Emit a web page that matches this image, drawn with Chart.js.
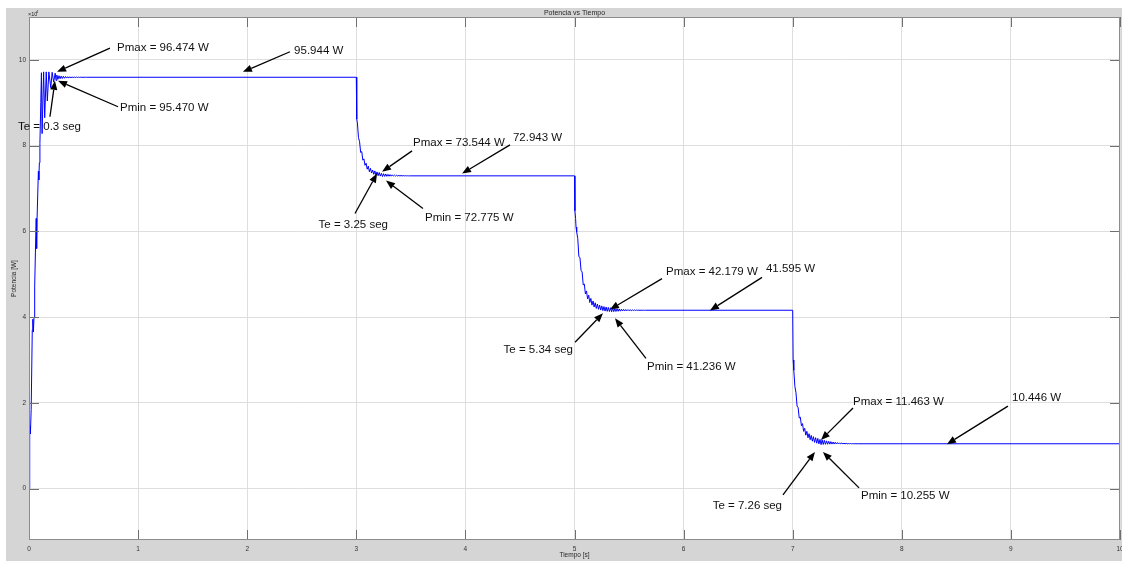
<!DOCTYPE html>
<html>
<head>
<meta charset="utf-8">
<title>Potencia vs Tiempo</title>
<script src="https://cdn.jsdelivr.net/npm/chart.js@4.4.1/dist/chart.umd.min.js"></script>
<style>
  html, body { margin: 0; padding: 0; background: #ffffff; }
  #lienzo { display: block; }
</style>
</head>
<body>
<canvas id="lienzo" width="1122" height="561"></canvas>
<script>
// Valores característicos de cada escalón [W]
const PMAX = [96.474, 73.544, 42.179, 11.463];
const PMIN = [95.470, 72.775, 41.236, 10.255];
const REGIMEN = [95.944, 72.943, 41.595, 10.446];
const T_ESTAB = [0.3, 3.25, 5.34, 7.26];

// Ejes
const xTicks = [0, 1, 2, 3, 4, 5, 6, 7, 8, 9, 10];
const xTickLabels = ['0', '1', '2', '3', '4', '5', '6', '7', '8', '9', '10'];
const yTicks = [0, 20, 40, 60, 80, 100];
const yTickLabels = ['0', '2', '4', '6', '8', '10'];

// Arranque (0 -> régimen 1)
const tiempoArranque = [0, 0.004, 0.009, 0.011, 0.013, 0.02, 0.03, 0.035, 0.04, 0.046,
  0.052, 0.062, 0.066, 0.07, 0.074, 0.086, 0.09, 0.095, 0.1, 0.108,
  0.114, 0.12, 0.134, 0.144, 0.158, 0.168, 0.182, 0.2, 0.212, 0.226,
  0.24, 0.248, 0.255, 0.265, 0.275, 0.285, 0.295, 0.305, 0.315, 0.325,
  0.335, 0.345, 0.355, 0.365, 0.375, 0.385, 0.395, 0.405, 0.415, 0.425,
  0.435, 0.445, 0.455, 0.465, 0.475, 0.485, 0.495, 0.505, 0.515, 0.525];
const potenciaArranque = [0, 6.0, 13.0, 14.5, 12.8, 18.5, 37.0, 39.5, 36.5, 40.0,
  47.0, 59.0, 63.0, 56.0, 63.0, 74.0, 72.0, 76.0, 80.5, 90.0,
  97.0, 82.8, 97.2, 86.5, 97.2, 90.4, 97.2, 93.5, 97.1, 94.8,
  96.9, 95.2, PMAX[0], PMIN[0], 96.30, 95.60, 96.22, 95.66, 96.16, 95.71,
  96.11, 95.75, 96.07, 95.79, 96.04, 95.82, 96.02, 95.85, 96.00, 95.87,
  95.99, 95.89, 95.98, 95.90, 95.97, 95.91, 95.96, 95.92, 95.95, REGIMEN[0]];

// Escalón en t = 3 s
const tiempoEscalon1 = [3.0, 3.004, 3.01,
  3.02, 3.03, 3.04, 3.05, 3.06, 3.07, 3.08, 3.09, 3.10, 3.11,
  3.12, 3.13, 3.14, 3.15, 3.16, 3.17, 3.18, 3.19, 3.20, 3.21,
  3.22, 3.23, 3.24, 3.25, 3.26, 3.27, 3.28, 3.29, 3.30, 3.31,
  3.32, 3.33, 3.34, 3.35, 3.36, 3.37, 3.38, 3.39, 3.40, 3.41,
  3.42, 3.43, 3.44, 3.45, 3.46, 3.47, 3.48, 3.49, 3.50];
const potenciaEscalon1 = [REGIMEN[0], 86.2, 85.3,
  81.9, 80.9, 78.4, 78.6, 76.6, 76.9, 75.4, 75.9, 74.5, 75.2,
  73.9, 74.7, 73.6, 74.3, 73.3, 74.1, 73.1, 73.86, 72.97, 73.72,
  72.89, PMAX[1], PMIN[1], 73.45, 72.81, 73.38, 72.83, 73.30, 72.85, 73.24,
  72.87, 73.18, 72.88, 73.13, 72.89, 73.09, 72.90, 73.06, 72.91, 73.03,
  72.92, 73.01, 72.925, 72.99, 72.93, 72.97, 72.935, 72.955, REGIMEN[1]];

// Escalón en t = 5 s
const tiempoEscalon2 = [5.0, 5.004, 5.01, 5.014,
  5.02, 5.03, 5.04, 5.05, 5.06, 5.07, 5.08, 5.09, 5.10, 5.11,
  5.12, 5.13, 5.14, 5.15, 5.16, 5.17, 5.18, 5.19, 5.20, 5.21,
  5.22, 5.23, 5.24, 5.25, 5.26, 5.27, 5.28, 5.29, 5.30, 5.31,
  5.32, 5.33, 5.34, 5.35, 5.36, 5.37, 5.38, 5.39, 5.40, 5.41,
  5.42, 5.43, 5.44, 5.45, 5.46, 5.47, 5.48, 5.49, 5.50, 5.51,
  5.52, 5.53, 5.54, 5.55, 5.56, 5.57, 5.58, 5.59, 5.60, 5.61,
  5.62, 5.63, 5.64, 5.65];
const potenciaEscalon2 = [REGIMEN[1], 64.8, 63.0, 61.0,
  59.9, 58.3, 54.1, 53.9, 50.9, 50.5, 47.5, 47.7, 45.4, 46.1,
  44.25, 45.1, 43.4, 44.35, 42.8, 43.75, 42.35, 43.33, 42.02, 43.03,
  41.81, 42.80, 41.64, 42.61, 41.51, 42.45, 41.40, 42.35, 41.34, 42.26,
  41.29, PMAX[2], PMIN[2], 42.06, 41.27, 42.00, 41.31, 41.94, 41.35, 41.89,
  41.38, 41.85, 41.41, 41.81, 41.44, 41.77, 41.46, 41.74, 41.48, 41.71,
  41.50, 41.69, 41.52, 41.67, 41.53, 41.65, 41.55, 41.635, 41.56, 41.625,
  41.57, 41.615, 41.58, REGIMEN[2]];

// Escalón en t = 7 s hasta el final de la simulación
const tiempoEscalon3 = [7.0, 7.004, 7.01,
  7.02, 7.03, 7.04, 7.05, 7.06, 7.07, 7.08, 7.09, 7.10, 7.11,
  7.12, 7.13, 7.14, 7.15, 7.16, 7.17, 7.18, 7.19, 7.20, 7.21,
  7.22, 7.23, 7.24, 7.25, 7.26, 7.27, 7.28, 7.29, 7.30, 7.31,
  7.32, 7.33, 7.34, 7.35, 7.36, 7.37, 7.38, 7.39, 7.40, 7.41,
  7.42, 7.43, 7.44, 7.45, 7.46, 7.47, 7.48, 7.49, 7.50, 7.51,
  7.52, 7.53, 7.54, 7.55, 7.56, 7.57, 7.58, 7.59, 7.60, 10.0];
const potenciaEscalon3 = [REGIMEN[2], 30.0, 27.6,
  23.85, 22.35, 19.25, 18.85, 16.45, 16.65, 14.65, 15.15, 13.35, 14.05,
  12.45, 13.35, 11.85, 12.8, 11.4, 12.4, 11.05, 12.1, 10.77, 11.87,
  10.58, 11.7, 10.43, PMAX[3], PMIN[3], 11.35, 10.29, 11.24, 10.32, 11.13,
  10.34, 11.03, 10.36, 10.94, 10.37, 10.86, 10.38, 10.79, 10.39, 10.73,
  10.40, 10.67, 10.41, 10.62, 10.42, 10.58, 10.425, 10.55, 10.43, 10.52,
  10.435, 10.50, 10.44, 10.48, 10.442, 10.465, 10.445, 10.455, REGIMEN[3], REGIMEN[3]];

const tramos = [
  [tiempoArranque, potenciaArranque],
  [tiempoEscalon1, potenciaEscalon1],
  [tiempoEscalon2, potenciaEscalon2],
  [tiempoEscalon3, potenciaEscalon3]
];
const puntos = [];
tramos.forEach(([ts, ps]) => {
  const n = Math.min(ts.length, ps.length);
  for (let i = 0; i < n; i++) puntos.push({ x: ts[i], y: ps[i] });
});

const fmt = v => v.toFixed(3);

// Flechas de anotación: punta, cola y texto en coordenadas (t [s], P [W])
const anotaciones = [
  { texto: `Pmax = ${fmt(PMAX[0])} W`, punta: [0.257, 97.2], cola: [0.742, 102.75], pos: [0.807, 102.75], alin: 'left' },
  { texto: `${fmt(REGIMEN[0])} W`, punta: [1.961, 97.2], cola: [2.392, 101.9], pos: [2.43, 102.1], alin: 'left' },
  { texto: `Pmin = ${fmt(PMIN[0])} W`, punta: [0.266, 95.1], cola: [0.816, 89.06], pos: [0.834, 88.83], alin: 'left' },
  { texto: `Te = ${T_ESTAB[0]} seg`, punta: [0.238, 95.1], cola: [0.192, 86.73], pos: [-0.101, 84.4], alin: 'left' },

  { texto: `Pmax = ${fmt(PMAX[1])} W`, punta: [3.236, 73.89], cola: [3.511, 78.77], pos: [3.52, 80.63], alin: 'left' },
  { texto: `${fmt(REGIMEN[1])} W`, punta: [3.969, 73.47], cola: [4.409, 80.17], pos: [4.436, 81.8], alin: 'left' },
  { texto: `Pmin = ${fmt(PMIN[1])} W`, punta: [3.272, 71.84], cola: [3.611, 65.32], pos: [3.63, 63.23], alin: 'left' },
  { texto: `Te = ${T_ESTAB[1]} seg`, punta: [3.19, 73.47], cola: [2.988, 64.16], pos: [3.29, 61.6], alin: 'right' },

  { texto: `Pmax = ${fmt(PMAX[2])} W`, punta: [5.325, 41.76], cola: [5.802, 48.98], pos: [5.839, 50.61], alin: 'left' },
  { texto: `${fmt(REGIMEN[2])} W`, punta: [6.242, 41.54], cola: [6.719, 49.27], pos: [6.755, 51.3], alin: 'left' },
  { texto: `Pmin = ${fmt(PMIN[2])} W`, punta: [5.371, 39.72], cola: [5.655, 30.35], pos: [5.665, 28.5], alin: 'left' },
  { texto: `Te = ${T_ESTAB[2]} seg`, punta: [5.261, 40.89], cola: [5.005, 34.14], pos: [4.986, 32.3], alin: 'right' },

  { texto: `Pmax = ${fmt(PMAX[3])} W`, punta: [7.259, 11.33], cola: [7.553, 18.78], pos: [7.553, 20.18], alin: 'left' },
  { texto: `${fmt(REGIMEN[3])} W`, punta: [8.414, 10.36], cola: [8.973, 19.24], pos: [9.01, 21.1], alin: 'left' },
  { texto: `Pmin = ${fmt(PMIN[3])} W`, punta: [7.277, 8.54], cola: [7.608, 0.16], pos: [7.626, -1.77], alin: 'left' },
  { texto: `Te = ${T_ESTAB[3]} seg`, punta: [7.204, 8.54], cola: [6.911, -1.49], pos: [6.902, -4.03], alin: 'right' }
];

const FUENTE = '"Liberation Sans", Arial, Helvetica, sans-serif';
const GRIS_FIGURA = '#d5d5d5';

function flecha(ctx, x0, y0, x1, y1) {
  const ang = Math.atan2(y1 - y0, x1 - x0);
  const largo = 9, ancho = 3.6;
  const bx = x1 - largo * Math.cos(ang), by = y1 - largo * Math.sin(ang);
  ctx.beginPath();
  ctx.moveTo(x0, y0);
  ctx.lineTo(bx, by);
  ctx.stroke();
  ctx.beginPath();
  ctx.moveTo(x1, y1);
  ctx.lineTo(bx + ancho * Math.sin(ang), by - ancho * Math.cos(ang));
  ctx.lineTo(bx - ancho * Math.sin(ang), by + ancho * Math.cos(ang));
  ctx.closePath();
  ctx.fill();
}

const figura = {
  id: 'figura',
  beforeDraw(chart) {
    const { ctx, chartArea: a } = chart;
    ctx.save();
    ctx.fillStyle = '#ffffff';
    ctx.fillRect(0, 0, chart.width, chart.height);
    ctx.fillStyle = GRIS_FIGURA;
    ctx.fillRect(6, 8, chart.width - 6, chart.height - 8);
    ctx.fillStyle = '#ffffff';
    ctx.fillRect(a.left, a.top, a.right - a.left, a.bottom - a.top);
    ctx.restore();
  },
  afterDraw(chart) {
    const { ctx, chartArea: a, scales } = chart;
    const sx = scales.x, sy = scales.y;
    ctx.save();

    // Marcas interiores de los ejes
    ctx.strokeStyle = '#707070';
    ctx.lineWidth = 1;
    ctx.beginPath();
    xTicks.forEach(v => {
      const px = Math.round(sx.getPixelForValue(v)) + 0.5;
      ctx.moveTo(px, a.bottom); ctx.lineTo(px, a.bottom - 10);
      ctx.moveTo(px, a.top); ctx.lineTo(px, a.top + 10);
    });
    yTicks.forEach(v => {
      const py = Math.round(sy.getPixelForValue(v)) + 0.5;
      ctx.moveTo(a.left, py); ctx.lineTo(a.left + 10, py);
      ctx.moveTo(a.right, py); ctx.lineTo(a.right - 10, py);
    });
    ctx.stroke();

    // Caja de los ejes
    ctx.strokeStyle = '#8c8c8c';
    ctx.strokeRect(Math.round(a.left) + 0.5, Math.round(a.top) + 0.5,
      Math.round(a.right - a.left) - 1, Math.round(a.bottom - a.top) - 1);

    // Título, etiquetas de ejes y exponente
    ctx.fillStyle = '#262626';
    ctx.textAlign = 'center';
    ctx.textBaseline = 'middle';
    ctx.font = `7px ${FUENTE}`;
    ctx.fillText('Potencia vs Tiempo', (a.left + a.right) / 2, 13);
    ctx.font = `6.5px ${FUENTE}`;
    ctx.fillText('Tiempo [s]', (a.left + a.right) / 2, 555);
    ctx.save();
    ctx.translate(14, (a.top + a.bottom) / 2);
    ctx.rotate(-Math.PI / 2);
    ctx.fillText('Potencia [W]', 0, 0);
    ctx.restore();
    ctx.textAlign = 'left';
    ctx.font = `5.5px ${FUENTE}`;
    ctx.fillText('\u00d710', a.left - 1, 14);
    ctx.font = `4px ${FUENTE}`;
    ctx.fillText('4', a.left + 7, 12);

    // Anotaciones
    ctx.strokeStyle = '#000000';
    ctx.fillStyle = '#000000';
    ctx.lineWidth = 1.3;
    anotaciones.forEach(an => {
      flecha(ctx,
        sx.getPixelForValue(an.cola[0]), sy.getPixelForValue(an.cola[1]),
        sx.getPixelForValue(an.punta[0]), sy.getPixelForValue(an.punta[1]));
    });
    ctx.fillStyle = '#111111';
    ctx.font = `11.5px ${FUENTE}`;
    ctx.textBaseline = 'middle';
    anotaciones.forEach(an => {
      ctx.textAlign = an.alin;
      ctx.fillText(an.texto, sx.getPixelForValue(an.pos[0]), sy.getPixelForValue(an.pos[1]));
    });
    ctx.restore();
  }
};

new Chart(document.getElementById('lienzo'), {
  type: 'line',
  data: {
    datasets: [{
      label: 'Potencia',
      data: puntos,
      borderColor: '#0000ff',
      borderWidth: 1,
      pointRadius: 0,
      tension: 0,
      fill: false
    }]
  },
  options: {
    responsive: false,
    animation: false,
    devicePixelRatio: 1,
    layout: { padding: { left: 6, top: 17, right: 2, bottom: 0 } },
    plugins: { legend: { display: false }, tooltip: { enabled: false }, title: { display: false } },
    scales: {
      x: {
        type: 'linear',
        min: 0,
        max: 10,
        afterFit(s) { s.height = 21; s.paddingLeft = 0; s.paddingRight = 0; },
        afterBuildTicks(s) { s.ticks = xTicks.map(v => ({ value: v })); },
        grid: { color: '#dedede', lineWidth: 1, drawTicks: false },
        border: { display: false },
        ticks: {
          autoSkip: false, maxRotation: 0, minRotation: 0, padding: 5,
          color: '#333333', font: { family: FUENTE, size: 6.5 },
          callback: (v, i) => xTickLabels[i]
        }
      },
      y: {
        type: 'linear',
        min: -12,
        max: 110,
        afterFit(s) { s.width = 23; s.paddingTop = 0; s.paddingBottom = 0; },
        afterBuildTicks(s) { s.ticks = yTicks.map(v => ({ value: v })); },
        grid: { color: '#dedede', lineWidth: 1, drawTicks: false },
        border: { display: false },
        ticks: {
          autoSkip: false, padding: 3,
          color: '#333333', font: { family: FUENTE, size: 6.5 },
          callback: (v, i) => yTickLabels[i]
        }
      }
    }
  },
  plugins: [figura]
});
</script>
</body>
</html>
